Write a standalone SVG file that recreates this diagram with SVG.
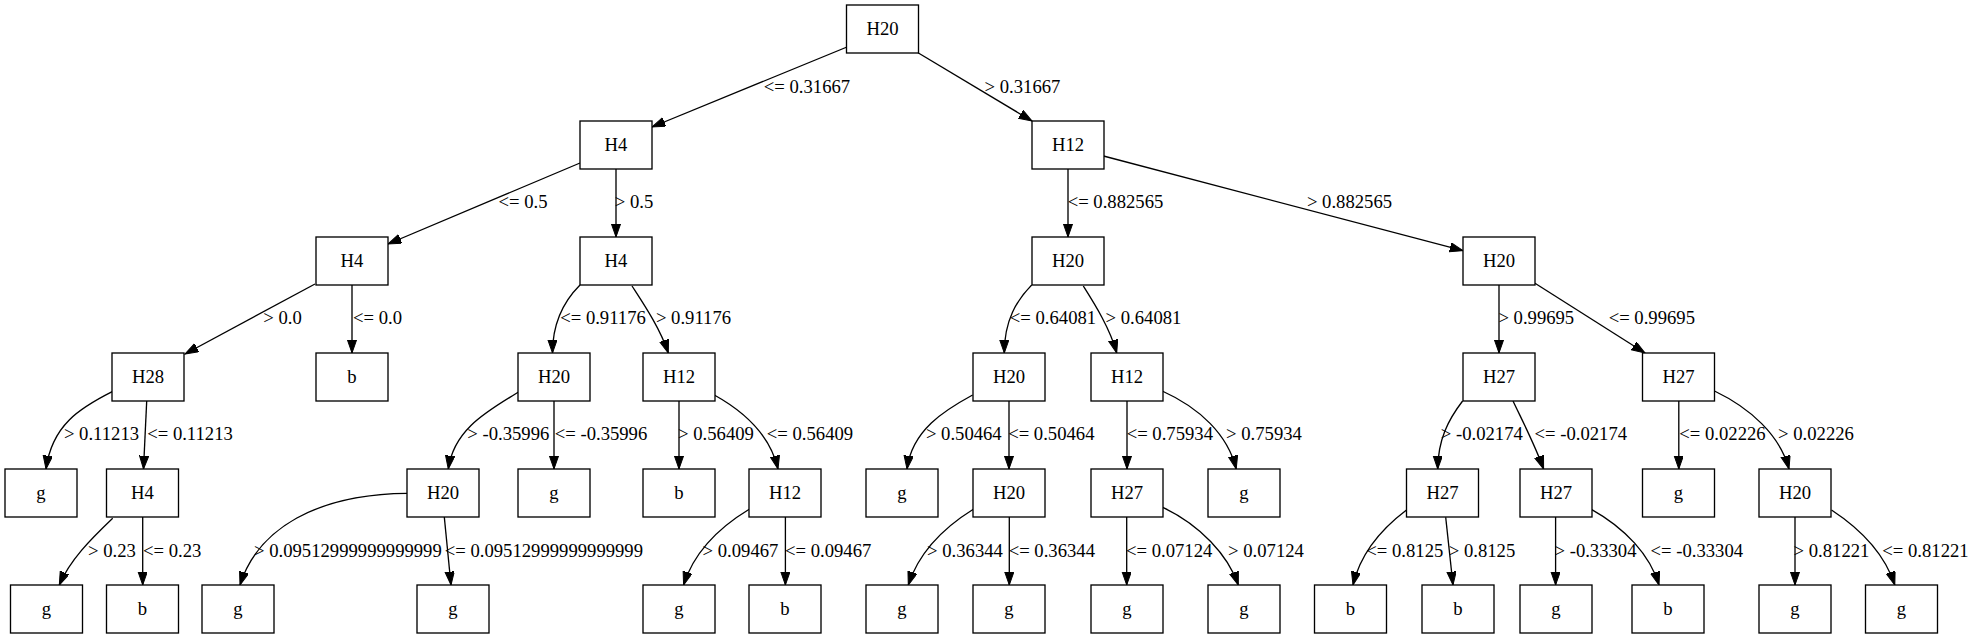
<svg xmlns="http://www.w3.org/2000/svg" width="1976" height="639" viewBox="0 0 1976 639">
<style>
.node rect{fill:#fff;stroke:#000;stroke-width:1.33}
text{font-family:"Liberation Serif","Times New Roman",serif;font-size:18.67px;fill:#000;text-anchor:middle}
.edges path{fill:none;stroke:#000;stroke-width:1.33;marker-end:url(#ah)}
</style>
<defs>
<marker id="ah" markerUnits="userSpaceOnUse" markerWidth="14" markerHeight="10" refX="13.3" refY="4.67" orient="auto" viewBox="0 0 14 10">
<path d="M0,0 L13.3,4.67 L0,9.33 Z" fill="#000" stroke="#000" stroke-width="1"/>
</marker>
</defs>
<rect width="1976" height="639" fill="#fff"/>
<g id="edges" class="edges">
<path d="M847,47 L652,127"/>
<path d="M918,52.7 L1032,121"/>
<path d="M580,163 L388,244"/>
<path d="M616,169 L616,237"/>
<path d="M1068,169 L1068,237"/>
<path d="M1103.5,156 L1463,250.7"/>
<path d="M315,284 L185,354"/>
<path d="M352,285 L352,353"/>
<path d="M580,285 C566,299 552.5,320 552.5,353"/>
<path d="M632,286 C643,303 660,328 668.3,353"/>
<path d="M1031.7,285 C1017,300 1004.3,320 1004.3,353"/>
<path d="M1083.3,286 C1094,303 1110,328 1116.7,353"/>
<path d="M1499,285 L1499,353"/>
<path d="M1535,283.3 L1645,353"/>
<path d="M112.2,391.7 C80,408 52,425 46,469"/>
<path d="M146.7,401 L143.5,469"/>
<path d="M518.5,392 C490,410 454,428 448.3,469"/>
<path d="M554,401 L554,469"/>
<path d="M679,401 L679,469"/>
<path d="M714.3,395 C745,412 770,435 778,469"/>
<path d="M972.6,395 C945,410 912,430 907,469"/>
<path d="M1009,401 L1009,469"/>
<path d="M1127,401 L1127,469"/>
<path d="M1162.2,391 C1200,408 1228,435 1236.2,469"/>
<path d="M1462.6,401 C1448,420 1438,440 1437.7,469"/>
<path d="M1513,401 C1522,420 1535,445 1543.6,469"/>
<path d="M1678.8,401 L1678.8,469"/>
<path d="M1714.5,391 C1750,408 1780,435 1789,469"/>
<path d="M112.7,518.3 C90,540 70,560 59.3,585"/>
<path d="M142.7,517 L142.7,585"/>
<path d="M407,493.3 C318,494 258,528 240,585"/>
<path d="M444.3,517 L451,585"/>
<path d="M749.2,509.3 C715,530 693,555 683.6,585"/>
<path d="M785.4,517 L785.4,585"/>
<path d="M973.3,509.3 C940,530 918,555 908.3,585"/>
<path d="M1009.3,517 L1009.3,585"/>
<path d="M1126.7,517 L1126.7,585"/>
<path d="M1162.7,507.3 C1200,525 1228,555 1238.3,585"/>
<path d="M1406.5,510 C1380,530 1360,555 1353,585"/>
<path d="M1445.7,517.3 L1453,585"/>
<path d="M1555.6,517 L1555.6,585"/>
<path d="M1591.4,509.3 C1625,528 1650,555 1659,585"/>
<path d="M1795,517 L1795,585"/>
<path d="M1831.5,510 C1862,530 1885,555 1894.8,585"/>
</g>
<g id="edge-labels">
<text x="807" y="93">&lt;= 0.31667</text>
<text x="1022.5" y="93">&gt; 0.31667</text>
<text x="523" y="208">&lt;= 0.5</text>
<text x="634" y="208">&gt; 0.5</text>
<text x="1115.5" y="208">&lt;= 0.882565</text>
<text x="1349.5" y="208">&gt; 0.882565</text>
<text x="282.5" y="324">&gt; 0.0</text>
<text x="377.5" y="324">&lt;= 0.0</text>
<text x="603" y="324">&lt;= 0.91176</text>
<text x="693.5" y="324">&gt; 0.91176</text>
<text x="1053" y="324">&lt;= 0.64081</text>
<text x="1143.5" y="324">&gt; 0.64081</text>
<text x="1536.3" y="324">&gt; 0.99695</text>
<text x="1651.8" y="324">&lt;= 0.99695</text>
<text x="101.5" y="440">&gt; 0.11213</text>
<text x="190" y="440">&lt;= 0.11213</text>
<text x="508.3" y="440">&gt; -0.35996</text>
<text x="601" y="440">&lt;= -0.35996</text>
<text x="716" y="440">&gt; 0.56409</text>
<text x="810" y="440">&lt;= 0.56409</text>
<text x="963.8" y="440">&gt; 0.50464</text>
<text x="1051.3" y="440">&lt;= 0.50464</text>
<text x="1169.8" y="440">&lt;= 0.75934</text>
<text x="1264" y="440">&gt; 0.75934</text>
<text x="1481.8" y="440">&gt; -0.02174</text>
<text x="1580.8" y="440">&lt;= -0.02174</text>
<text x="1722.5" y="440">&lt;= 0.02226</text>
<text x="1816" y="440">&gt; 0.02226</text>
<text x="112" y="557">&gt; 0.23</text>
<text x="172.2" y="557">&lt;= 0.23</text>
<text x="347.9" y="557">&gt; 0.09512999999999999</text>
<text x="543.9" y="557">&lt;= 0.09512999999999999</text>
<text x="740.5" y="557">&gt; 0.09467</text>
<text x="828.2" y="557">&lt;= 0.09467</text>
<text x="965" y="557">&gt; 0.36344</text>
<text x="1051.8" y="557">&lt;= 0.36344</text>
<text x="1169.2" y="557">&lt;= 0.07124</text>
<text x="1266" y="557">&gt; 0.07124</text>
<text x="1404.8" y="557">&lt;= 0.8125</text>
<text x="1482" y="557">&gt; 0.8125</text>
<text x="1595.5" y="557">&gt; -0.33304</text>
<text x="1696.8" y="557">&lt;= -0.33304</text>
<text x="1831.5" y="557">&gt; 0.81221</text>
<text x="1925.5" y="557">&lt;= 0.81221</text>
</g>
<g id="n0" class="node"><rect x="846.5" y="5" width="72" height="48"/><text x="882.5" y="35">H20</text></g>
<g id="n1" class="node"><rect x="580" y="121" width="72" height="48"/><text x="616" y="151">H4</text></g>
<g id="n2" class="node"><rect x="1032" y="121" width="72" height="48"/><text x="1068" y="151">H12</text></g>
<g id="n3" class="node"><rect x="316" y="237" width="72" height="48"/><text x="352" y="267">H4</text></g>
<g id="n4" class="node"><rect x="580" y="237" width="72" height="48"/><text x="616" y="267">H4</text></g>
<g id="n5" class="node"><rect x="1032" y="237" width="72" height="48"/><text x="1068" y="267">H20</text></g>
<g id="n6" class="node"><rect x="1463" y="237" width="72" height="48"/><text x="1499" y="267">H20</text></g>
<g id="n7" class="node"><rect x="112" y="353" width="72" height="48"/><text x="148" y="383">H28</text></g>
<g id="n8" class="node"><rect x="316" y="353" width="72" height="48"/><text x="352" y="383">b</text></g>
<g id="n9" class="node"><rect x="518" y="353" width="72" height="48"/><text x="554" y="383">H20</text></g>
<g id="n10" class="node"><rect x="643" y="353" width="72" height="48"/><text x="679" y="383">H12</text></g>
<g id="n11" class="node"><rect x="973" y="353" width="72" height="48"/><text x="1009" y="383">H20</text></g>
<g id="n12" class="node"><rect x="1091" y="353" width="72" height="48"/><text x="1127" y="383">H12</text></g>
<g id="n13" class="node"><rect x="1463" y="353" width="72" height="48"/><text x="1499" y="383">H27</text></g>
<g id="n14" class="node"><rect x="1642.5" y="353" width="72" height="48"/><text x="1678.5" y="383">H27</text></g>
<g id="n15" class="node"><rect x="5" y="469" width="72" height="48"/><text x="41" y="499">g</text></g>
<g id="n16" class="node"><rect x="106.5" y="469" width="72" height="48"/><text x="142.5" y="499">H4</text></g>
<g id="n17" class="node"><rect x="407" y="469" width="72" height="48"/><text x="443" y="499">H20</text></g>
<g id="n18" class="node"><rect x="518" y="469" width="72" height="48"/><text x="554" y="499">g</text></g>
<g id="n19" class="node"><rect x="643" y="469" width="72" height="48"/><text x="679" y="499">b</text></g>
<g id="n20" class="node"><rect x="749" y="469" width="72" height="48"/><text x="785" y="499">H12</text></g>
<g id="n21" class="node"><rect x="866" y="469" width="72" height="48"/><text x="902" y="499">g</text></g>
<g id="n22" class="node"><rect x="973" y="469" width="72" height="48"/><text x="1009" y="499">H20</text></g>
<g id="n23" class="node"><rect x="1091" y="469" width="72" height="48"/><text x="1127" y="499">H27</text></g>
<g id="n24" class="node"><rect x="1208" y="469" width="72" height="48"/><text x="1244" y="499">g</text></g>
<g id="n25" class="node"><rect x="1406.5" y="469" width="72" height="48"/><text x="1442.5" y="499">H27</text></g>
<g id="n26" class="node"><rect x="1520" y="469" width="72" height="48"/><text x="1556" y="499">H27</text></g>
<g id="n27" class="node"><rect x="1642.5" y="469" width="72" height="48"/><text x="1678.5" y="499">g</text></g>
<g id="n28" class="node"><rect x="1759" y="469" width="72" height="48"/><text x="1795" y="499">H20</text></g>
<g id="n29" class="node"><rect x="10.5" y="585" width="72" height="48"/><text x="46.5" y="615">g</text></g>
<g id="n30" class="node"><rect x="106.5" y="585" width="72" height="48"/><text x="142.5" y="615">b</text></g>
<g id="n31" class="node"><rect x="202" y="585" width="72" height="48"/><text x="238" y="615">g</text></g>
<g id="n32" class="node"><rect x="417" y="585" width="72" height="48"/><text x="453" y="615">g</text></g>
<g id="n33" class="node"><rect x="643" y="585" width="72" height="48"/><text x="679" y="615">g</text></g>
<g id="n34" class="node"><rect x="749" y="585" width="72" height="48"/><text x="785" y="615">b</text></g>
<g id="n35" class="node"><rect x="866" y="585" width="72" height="48"/><text x="902" y="615">g</text></g>
<g id="n36" class="node"><rect x="973" y="585" width="72" height="48"/><text x="1009" y="615">g</text></g>
<g id="n37" class="node"><rect x="1091" y="585" width="72" height="48"/><text x="1127" y="615">g</text></g>
<g id="n38" class="node"><rect x="1208" y="585" width="72" height="48"/><text x="1244" y="615">g</text></g>
<g id="n39" class="node"><rect x="1314.5" y="585" width="72" height="48"/><text x="1350.5" y="615">b</text></g>
<g id="n40" class="node"><rect x="1422" y="585" width="72" height="48"/><text x="1458" y="615">b</text></g>
<g id="n41" class="node"><rect x="1520" y="585" width="72" height="48"/><text x="1556" y="615">g</text></g>
<g id="n42" class="node"><rect x="1632" y="585" width="72" height="48"/><text x="1668" y="615">b</text></g>
<g id="n43" class="node"><rect x="1759" y="585" width="72" height="48"/><text x="1795" y="615">g</text></g>
<g id="n44" class="node"><rect x="1865.5" y="585" width="72" height="48"/><text x="1901.5" y="615">g</text></g>
</svg>
